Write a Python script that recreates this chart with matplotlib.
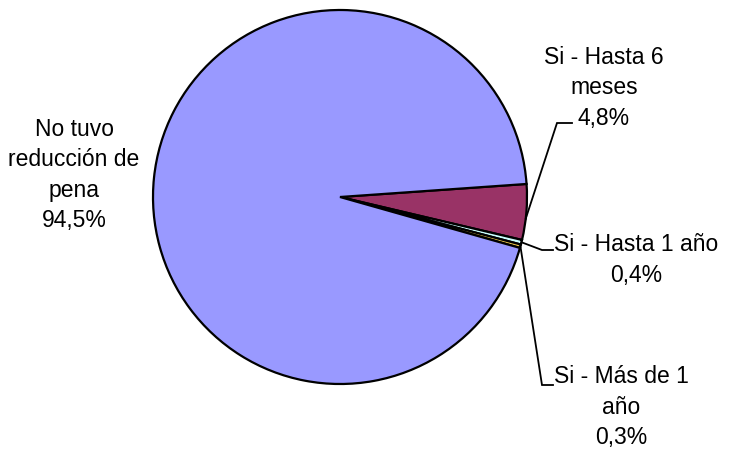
import numpy as np
import matplotlib
matplotlib.use('Agg')
import matplotlib.pyplot as plt

# Slices in clockwise order, starting near 3 o'clock
labels = ['Si - Hasta 6\nmeses\n4,8%', 'Si - Hasta 1 año\n0,4%',
          'Si - Más de 1\naño\n0,3%', 'No tuvo\nreducción de\npena\n94,5%']
values = [4.8, 0.4, 0.3, 94.5]
colors = ['#993366', '#CCFFFF', '#E8C44A', '#9999FF']

plt.rcParams['font.family'] = ['Liberation Sans', 'DejaVu Sans']

W, H = 729, 455
cx, cy, R = 340, 197, 187

fig = plt.figure(figsize=(W / 100, H / 100), dpi=100)
ax = fig.add_axes([(cx - R) / W, (H - cy - R) / H, 2 * R / W, 2 * R / H])

wedges, _ = ax.pie(values, colors=colors, startangle=4, counterclock=False,
                   radius=1, wedgeprops=dict(edgecolor='black', linewidth=1.6))
ax.set_xlim(-1, 1)
ax.set_ylim(-1, 1)
ax.set_aspect('equal')
ax.axis('off')
for w in wedges:
    w.set_clip_on(False)


def px(x, y):
    # pixel position (from top-left) to data coords
    return (x - cx) / R, (cy - y) / R


# label text centres (pixels) and leader elbows/ends (pixels)
text_pos = [(604, 88), (636, 260), (621, 407), (74, 175)]
elbows = [((557, 123), (572, 123)), ((542, 250), (553, 250)),
          ((542, 385), (553, 385)), None]
# where the leader meets the rim, relative to the wedge middle (degrees)
nudge = [-2, 0, 0, 0]

for w, lab, tp, el, nd in zip(wedges, labels, text_pos, elbows, nudge):
    mid = np.deg2rad((w.theta1 + w.theta2) / 2 + nd)
    if el is not None:
        a = (np.cos(mid), np.sin(mid))
        b = px(*el[0])
        c = px(*el[1])
        ax.plot([a[0], b[0], c[0]], [a[1], b[1], c[1]], color='black',
                lw=1.3, clip_on=False, solid_joinstyle='miter')
    tx, ty = px(*tp)
    ax.text(tx, ty, lab, ha='center', va='center', fontsize=16.5,
            linespacing=1.42, multialignment='center')

fig.savefig('out.png', dpi=100)
